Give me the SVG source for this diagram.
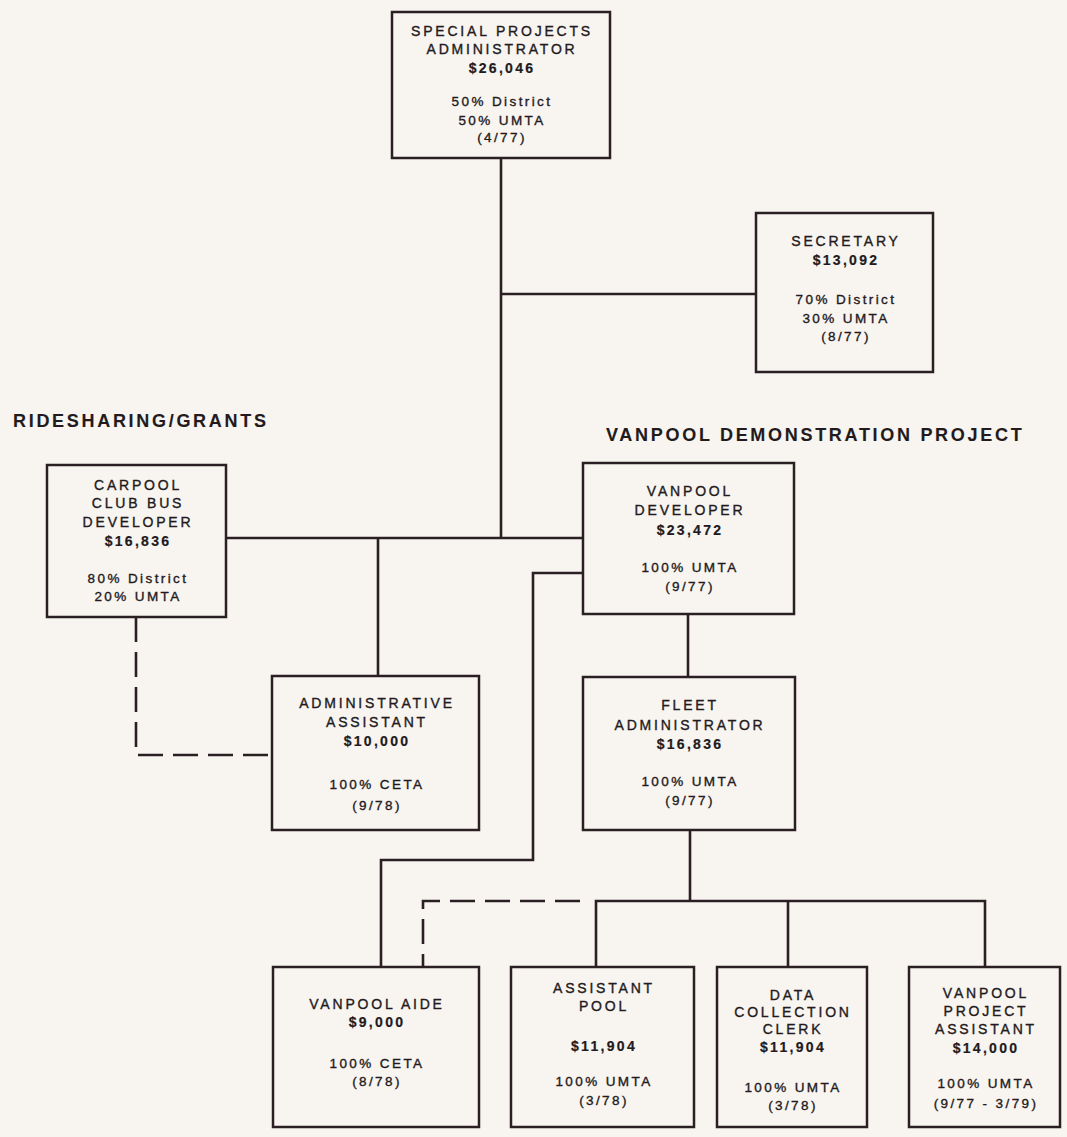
<svg xmlns="http://www.w3.org/2000/svg" width="1067" height="1137" viewBox="0 0 1067 1137">
<style>
.bg{fill:#f8f4f0}
.box{fill:#f8f4f0;stroke:#2a1f22;stroke-width:2.5}
.ln{fill:none;stroke:#2a1f22;stroke-width:2.6}
.ds{fill:none;stroke:#2a1f22;stroke-width:2.6;stroke-dasharray:25 10}
text{font-family:"Liberation Sans",Arial,sans-serif;fill:#221a1c;text-anchor:middle;stroke:#221a1c;stroke-width:0.35}
.t{font-size:14px;letter-spacing:2.8px}
.s{font-size:14px;letter-spacing:2.3px;font-weight:bold;stroke-width:0.2}
.p{font-size:13.5px;letter-spacing:2.4px}
.h{font-size:18px;letter-spacing:2.7px;font-weight:bold;text-anchor:start;stroke-width:0.1}
</style>
<rect class="bg" x="0" y="0" width="1067" height="1137"/>
<g id="connectors">
<polyline class="ln" points="501,158 501,538"/>
<polyline class="ln" points="501,294 756,294"/>
<polyline class="ln" points="226,538 583,538"/>
<polyline class="ln" points="378,538 378,676"/>
<polyline class="ln" points="583,573 533,573 533,860 381,860 381,967"/>
<polyline class="ln" points="688,614 688,677"/>
<polyline class="ln" points="690,830 690,901"/>
<polyline class="ln" points="596,967 596,901 985,901 985,967"/>
<polyline class="ln" points="788,901 788,967"/>
<polyline class="ds" points="580,901 423,901 423,967"/>
<polyline class="ds" points="136,617 136,755 272,755"/>
</g>
<g id="labels">
<text class="h" x="13" y="427">RIDESHARING/GRANTS</text>
<text class="h" x="606" y="441">VANPOOL DEMONSTRATION PROJECT</text>
</g>
<g id="special-projects-administrator">
<rect class="box" x="392" y="12" width="218" height="146"/>
<text class="t" x="502" y="36">SPECIAL PROJECTS</text>
<text class="t" x="502" y="54">ADMINISTRATOR</text>
<text class="s" x="502" y="73">$26,046</text>
<text class="p" x="502" y="106">50% District</text>
<text class="p" x="502" y="125">50% UMTA</text>
<text class="p" x="502" y="142">(4/77)</text>
</g>
<g id="secretary">
<rect class="box" x="756" y="213" width="177" height="159"/>
<text class="t" x="846" y="246">SECRETARY</text>
<text class="s" x="846" y="265">$13,092</text>
<text class="p" x="846" y="304">70% District</text>
<text class="p" x="846" y="323">30% UMTA</text>
<text class="p" x="846" y="341">(8/77)</text>
</g>
<g id="carpool-club-bus-developer">
<rect class="box" x="47" y="465" width="179" height="152"/>
<text class="t" x="138" y="490">CARPOOL</text>
<text class="t" x="138" y="508">CLUB BUS</text>
<text class="t" x="138" y="527">DEVELOPER</text>
<text class="s" x="138" y="546">$16,836</text>
<text class="p" x="138" y="583">80% District</text>
<text class="p" x="138" y="601">20% UMTA</text>
</g>
<g id="vanpool-developer">
<rect class="box" x="583" y="463" width="211" height="151"/>
<text class="t" x="690" y="496">VANPOOL</text>
<text class="t" x="690" y="515">DEVELOPER</text>
<text class="s" x="690" y="535">$23,472</text>
<text class="p" x="690" y="572">100% UMTA</text>
<text class="p" x="690" y="591">(9/77)</text>
</g>
<g id="administrative-assistant">
<rect class="box" x="272" y="676" width="207" height="154"/>
<text class="t" x="377" y="708">ADMINISTRATIVE</text>
<text class="t" x="377" y="727">ASSISTANT</text>
<text class="s" x="377" y="746">$10,000</text>
<text class="p" x="377" y="789">100% CETA</text>
<text class="p" x="377" y="810">(9/78)</text>
</g>
<g id="fleet-administrator">
<rect class="box" x="583" y="677" width="212" height="153"/>
<text class="t" x="690" y="710">FLEET</text>
<text class="t" x="690" y="730">ADMINISTRATOR</text>
<text class="s" x="690" y="749">$16,836</text>
<text class="p" x="690" y="786">100% UMTA</text>
<text class="p" x="690" y="805">(9/77)</text>
</g>
<g id="vanpool-aide">
<rect class="box" x="273" y="967" width="206" height="160"/>
<text class="t" x="377" y="1009">VANPOOL AIDE</text>
<text class="s" x="377" y="1027">$9,000</text>
<text class="p" x="377" y="1068">100% CETA</text>
<text class="p" x="377" y="1086">(8/78)</text>
</g>
<g id="assistant-pool">
<rect class="box" x="511" y="967" width="183" height="160"/>
<text class="t" x="604" y="993">ASSISTANT</text>
<text class="t" x="604" y="1011">POOL</text>
<text class="s" x="604" y="1051">$11,904</text>
<text class="p" x="604" y="1086">100% UMTA</text>
<text class="p" x="604" y="1105">(3/78)</text>
</g>
<g id="data-collection-clerk">
<rect class="box" x="717" y="967" width="150" height="160"/>
<text class="t" x="793" y="1000">DATA</text>
<text class="t" x="793" y="1017">COLLECTION</text>
<text class="t" x="793" y="1034">CLERK</text>
<text class="s" x="793" y="1052">$11,904</text>
<text class="p" x="793" y="1092">100% UMTA</text>
<text class="p" x="793" y="1110">(3/78)</text>
</g>
<g id="vanpool-project-assistant">
<rect class="box" x="909" y="967" width="151" height="160"/>
<text class="t" x="986" y="998">VANPOOL</text>
<text class="t" x="986" y="1016">PROJECT</text>
<text class="t" x="986" y="1034">ASSISTANT</text>
<text class="s" x="986" y="1053">$14,000</text>
<text class="p" x="986" y="1088">100% UMTA</text>
<text class="p" x="986" y="1108">(9/77 - 3/79)</text>
</g>
</svg>
